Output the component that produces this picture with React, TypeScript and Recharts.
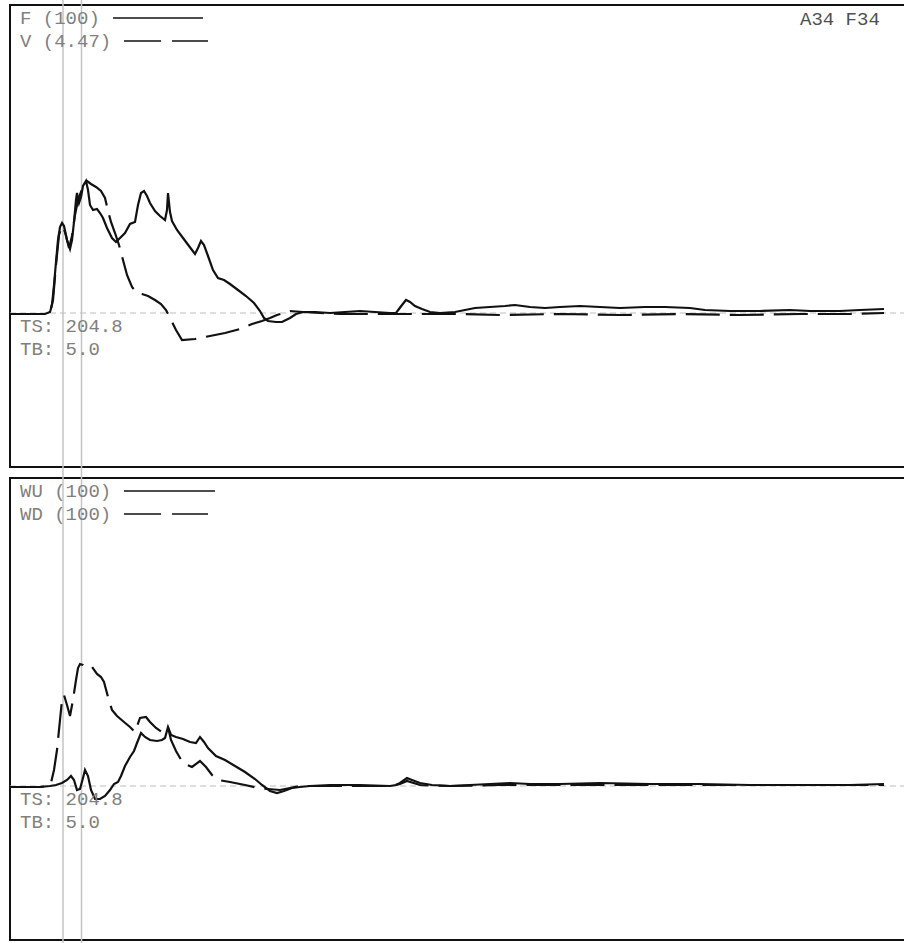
import React from "react";
import { LineChart, Line, XAxis, YAxis, ReferenceLine, ReferenceArea } from "recharts";

// time in samples, value in trace units (0 = baseline)
const F_POINTS: [number, number][] = [[0,-1],[20,-1],[35,-1],[40,1],[42,8],[44,28],[46,51],[48,73],[50,86],[52,90],[54,87],[57,73],[60,64],[62,73],[64,91],[66,113],[67,120],[69,110],[71,116],[73,127],[76,132],[78,123],[80,108],[83,103],[87,104],[90,100],[93,95],[97,85],[102,75],[106,71],[110,75],[115,80],[120,89],[125,91],[128,108],[131,120],[134,122],[137,117],[140,110],[145,102],[150,97],[155,93],[157,103],[158,120],[160,101],[162,92],[167,83],[173,75],[179,67],[185,59],[188,65],[191,72],[194,68],[198,57],[203,43],[208,35],[214,33],[220,29],[228,23],[236,17],[244,10],[250,2],[254,-5],[258,-8],[266,-9],[272,-9],[280,-5],[286,-1],[293,1],[305,1],[320,0],[335,1],[350,2],[365,1],[380,0],[386,0],[389,4],[392,8],[396,13],[400,11],[405,7],[412,4],[420,1],[430,0],[445,1],[455,3],[465,5],[480,6],[495,7],[505,8],[520,6],[535,5],[550,6],[570,7],[590,6],[610,5],[635,6],[655,6],[680,5],[695,3],[720,2],[750,2],[780,3],[800,2],[830,2],[850,3],[874,4]];

const V_POINTS: [number, number][] = [[0,-1],[35,-1],[40,1],[43,13],[46,48],[49,78],[52,87],[55,81],[59,65],[62,77],[65,98],[68,113],[71,121],[74,129],[77,132],[81,129],[86,126],[91,122],[95,115],[98,102],[101,91],[105,80],[109,68],[113,53],[117,38],[122,26],[127,20],[132,19],[138,17],[145,13],[151,9],[156,3],[161,-7],[166,-17],[172,-27],[185,-26],[200,-23],[215,-20],[230,-16],[242,-11],[252,-8],[260,-5],[267,-2],[280,2],[293,1],[310,0],[330,-1],[370,-1],[410,-1],[450,-1],[490,-2],[550,-1],[610,-2],[670,-1],[730,-2],[790,-1],[840,-1],[874,0]];

const WU_POINTS: [number, number][] = [[0,-1],[30,-1],[40,0],[46,1],[52,3],[57,6],[61,10],[64,6],[67,-4],[70,-3],[73,8],[75,16],[78,10],[81,-4],[85,-13],[90,-13],[95,-10],[100,-4],[104,2],[108,4],[111,10],[115,20],[120,29],[124,35],[127,43],[131,53],[135,49],[140,46],[147,45],[152,46],[155,48],[158,59],[161,51],[166,49],[173,47],[180,44],[186,43],[190,49],[194,44],[198,38],[206,30],[215,26],[225,20],[235,14],[245,7],[252,1],[260,-5],[267,-7],[274,-5],[282,-2],[290,-1],[300,0],[320,1],[350,1],[380,0],[386,1],[390,3],[397,8],[402,6],[410,3],[422,1],[440,0],[460,1],[480,2],[500,3],[520,2],[550,2],[590,3],[640,2],[690,2],[740,1],[790,1],[840,1],[874,2]];

const WD_POINTS: [number, number][] = [[0,-1],[30,-1],[38,0],[41,3],[44,16],[47,36],[50,66],[52,86],[54,91],[57,81],[60,70],[63,86],[66,106],[68,118],[70,122],[73,121],[77,118],[82,119],[87,112],[91,109],[94,104],[98,89],[102,76],[107,70],[114,64],[120,59],[125,54],[130,68],[136,69],[140,64],[146,58],[152,54],[156,56],[158,59],[161,46],[166,35],[173,23],[182,19],[190,25],[196,19],[202,11],[208,6],[220,4],[235,1],[248,-2],[258,-3],[270,-4],[280,-2],[290,0],[320,0],[380,0],[390,2],[397,5],[410,1],[440,0],[490,1],[550,1],[610,1],[690,1],[790,1],[874,1]];

const CURSOR_TIMES = [53, 71.5];
const TOP_LABELS = ["F (100)", "V (4.47)"];
const BOTTOM_LABELS = ["WU (100)", "WD (100)"];
const INFO_LABELS = ["TS: 204.8", "TB: 5.0"];
const CORNER_LABEL = "A34 F34";

const toData = (pts: [number, number][]) => pts.map(([t, v]) => ({ t, v }));

const FONT = "'Liberation Mono', 'Courier New', monospace";
const INK = "#111";
const TEXT = "#808080";

export default function App() {
  const panelOffset = 473;
  return (
    <div style={{ position: "absolute", left: 0, top: 0, width: 904, height: 943, overflow: "hidden", background: "#fff" }}>
      <LineChart width={920} height={943} margin={{ top: 0, right: 0, bottom: 0, left: 10 }}>
        <XAxis type="number" dataKey="t" domain={[0, 910]} hide allowDataOverflow />
        <YAxis yAxisId="top" type="number" domain={[-630, 313]} hide allowDataOverflow />
        <YAxis yAxisId="bottom" type="number" domain={[-157, 786]} hide allowDataOverflow />
        <ReferenceArea yAxisId="top" x1={0} x2={910} y1={-154} y2={308} fill="none" stroke={INK} strokeWidth={2} fillOpacity={0} strokeOpacity={1} />
        <ReferenceArea yAxisId="bottom" x1={0} x2={910} y1={-154} y2={308} fill="none" stroke={INK} strokeWidth={2} fillOpacity={0} strokeOpacity={1} />
        <ReferenceLine yAxisId="top" y={0} stroke="#bdbdbd" strokeDasharray="6 4" strokeWidth={1} />
        <ReferenceLine yAxisId="bottom" y={0} stroke="#bdbdbd" strokeDasharray="6 4" strokeWidth={1} />
        {CURSOR_TIMES.map((t) => (
          <ReferenceLine key={t} yAxisId="top" x={t} stroke="#c4c4c4" strokeWidth={1.5} />
        ))}
        <Line yAxisId="top" data={toData(F_POINTS)} dataKey="v" type="linear" stroke={INK} strokeWidth={2.2} dot={false} isAnimationActive={false} />
        <Line yAxisId="top" data={toData(V_POINTS)} dataKey="v" type="linear" stroke={INK} strokeWidth={2.2} strokeDasharray="34 10" dot={false} isAnimationActive={false} />
        <Line yAxisId="bottom" data={toData(WU_POINTS)} dataKey="v" type="linear" stroke={INK} strokeWidth={2.2} dot={false} isAnimationActive={false} />
        <Line yAxisId="bottom" data={toData(WD_POINTS)} dataKey="v" type="linear" stroke={INK} strokeWidth={2.2} strokeDasharray="34 10" dot={false} isAnimationActive={false} />
      </LineChart>
      <svg width={904} height={943} style={{ position: "absolute", left: 0, top: 0, pointerEvents: "none" }}>
        {[0, 1].map((p) => {
          const dy = p * panelOffset;
          const labels = p === 0 ? TOP_LABELS : BOTTOM_LABELS;
          return (
            <g key={p} fontFamily={FONT} fontSize={19}>
              <text x={20} y={24 + dy} fill={TEXT}>{labels[0]}</text>
              <text x={20} y={47 + dy} fill={TEXT}>{labels[1]}</text>
              <text x={20} y={332 + dy} fill={TEXT}>{INFO_LABELS[0]}</text>
              <text x={20} y={355 + dy} fill={TEXT}>{INFO_LABELS[1]}</text>
              <line x1={p === 0 ? 113 : 124} x2={p === 0 ? 203 : 215} y1={18 + dy} y2={18 + dy} stroke={INK} strokeWidth={1.5} />
              <line x1={124} x2={208} y1={41 + dy} y2={41 + dy} stroke={INK} strokeWidth={1.5} strokeDasharray="37 11" />
            </g>
          );
        })}
        <text x={800} y={25} fontFamily={FONT} fontSize={19} fill="#505050">{CORNER_LABEL}</text>
      </svg>
    </div>
  );
}
